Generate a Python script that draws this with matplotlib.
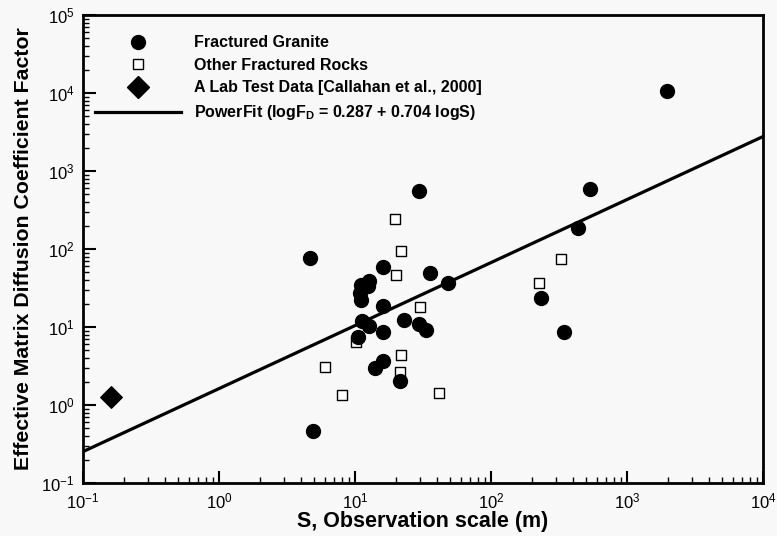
import matplotlib.pyplot as plt
from matplotlib.lines import Line2D
import numpy as np

# observation scale S (m) and matrix diffusion factor F_D
granite_s = [4.7, 29.6, 16.1, 35.6, 48.5, 12.7, 11.1, 12.5, 10.9, 11.1, 16.0, 11.2, 12.7,
             22.9, 29.7, 33.1, 16.2, 10.6, 16.1, 14.0, 21.4, 4.9,
             1980, 535, 434, 233, 346]
granite_f = [77, 559, 59.3, 49.7, 36.3, 39.4, 34.6, 33.6, 27.0, 22.2, 18.6, 12.0, 10.4,
             12.3, 10.9, 9.16, 8.55, 7.5, 3.67, 2.95, 2.05, 0.46,
             10700, 588, 188, 23.3, 8.7]

other_s = [19.6, 21.8, 19.9, 30.1, 10.2, 6.0, 21.9, 21.3, 8.0, 41.5, 327, 224]
other_f = [243, 95, 45.9, 18.2, 6.36, 3.04, 4.38, 2.62, 1.33, 1.44, 75, 37]

lab_s = [0.16]
lab_f = [1.28]

# fitted line as drawn: log F = a + b log S
fit_a = 0.21
fit_b = 0.808
fit_range = [0.1, 1e4]

plt.rcParams['font.family'] = ['Liberation Sans', 'DejaVu Sans']
plt.rcParams['mathtext.default'] = 'regular'

fig = plt.figure(figsize=(7.77, 5.36), dpi=100, facecolor='#f8f8f8')
ax = fig.add_axes([0.1068, 0.0989, 0.8752, 0.8731])
ax.set_facecolor('#f8f8f8')

# power-law fit line
s_line = np.logspace(np.log10(fit_range[0]), np.log10(fit_range[1]), 50)
ax.plot(s_line, 10 ** (fit_a + fit_b * np.log10(s_line)), color='black', lw=2.3, zorder=2)

ax.scatter(other_s, other_f, marker='s', s=55, facecolor='white', edgecolor='black',
           linewidth=1.0, zorder=3)
ax.scatter(granite_s, granite_f, marker='o', s=100, color='black', zorder=4)
ax.scatter(lab_s, lab_f, marker='D', s=120, color='black', zorder=4)

ax.set_xscale('log')
ax.set_yscale('log')
ax.set_xlim(0.1, 1e4)
ax.set_ylim(0.1, 1e5)

for side in ['left', 'bottom', 'top', 'right']:
    ax.spines[side].set_linewidth(2.0)

ax.tick_params(which='major', direction='in', length=9, width=1.5, labelsize=12,
               top=False, right=False, pad=6)
ax.tick_params(which='minor', direction='in', length=4.5, width=1.0, top=False, right=False)

ax.set_xlabel('S, Observation scale (m)', fontsize=15.5, fontweight='bold', labelpad=0)
ax.set_ylabel('Effective Matrix Diffusion Coefficient Factor', fontsize=15.3,
              fontweight='bold', labelpad=6)

# legend
handles = [
    Line2D([], [], marker='o', ls='none', color='black', markersize=10),
    Line2D([], [], marker='s', ls='none', markerfacecolor='white', markeredgecolor='black',
           markersize=7.5),
    Line2D([], [], marker='D', ls='none', color='black', markersize=11),
    Line2D([], [], color='black', lw=2.3),
]
labels = ['Fractured Granite', 'Other Fractured Rocks',
          'A Lab Test Data [Callahan et al., 2000]',
          r'PowerFit (logF$_D$ = 0.287 + 0.704 logS)']
ax.legend(handles, labels, loc='upper left', bbox_to_anchor=(0.018, 0.957), frameon=False,
          borderaxespad=0, borderpad=0, handlelength=5.4, handletextpad=0.8,
          labelspacing=0.48, prop={'weight': 'bold', 'size': 11.5})

fig.savefig('out.png', dpi=100, facecolor=fig.get_facecolor())
